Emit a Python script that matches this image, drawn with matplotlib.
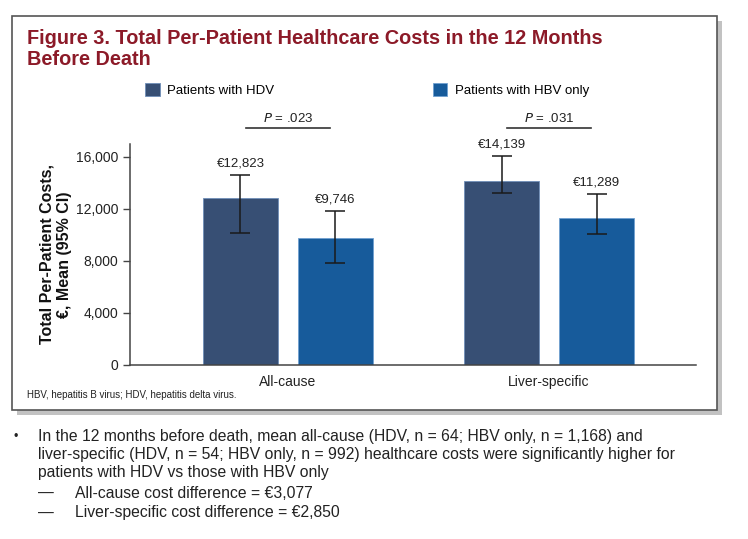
import matplotlib.pyplot as plt
import matplotlib.patches as mpatches
import numpy as np
from matplotlib.ticker import FuncFormatter

plt.rcParams['font.family'] = ['Liberation Sans Narrow', 'Liberation Sans', 'DejaVu Sans']

categories = ['All-cause', 'Liver-specific']
series = ['Patients with HDV', 'Patients with HBV only']
hdv_mean = [12823, 14139]
hbv_mean = [9746, 11289]
hdv_low = [10130, 13205]
hdv_high = [14615, 16077]
hbv_low = [7870, 10054]
hbv_high = [11846, 13154]
p_values = ['.023', '.031']
yticks = [0, 4000, 8000, 12000, 16000]

c_hdv = '#374f74'
c_hbv = '#175b9b'
c_title = '#8c1a28'

fig = plt.figure(figsize=(7.48, 5.39), dpi=100)

# framed panel with shadow
W, H = 748, 539
def fx(px):
    return px / W
def fy(py):
    return 1 - py / H
shadow = mpatches.Rectangle((fx(17), fy(415)), fx(705), fy(21) - fy(415),
                            transform=fig.transFigure, facecolor='#9a9a9a',
                            edgecolor='none', alpha=0.6, zorder=0)
box = mpatches.Rectangle((fx(12), fy(410)), fx(705), fy(16) - fy(410),
                         transform=fig.transFigure, facecolor='white',
                         edgecolor='#555555', linewidth=1.2, zorder=1)
fig.patches.extend([shadow, box])

fig.text(fx(27), fy(38), 'Figure 3. Total Per-Patient Healthcare Costs in the 12 Months',
         color=c_title, fontsize=14.3, fontweight='bold', va='center', ha='left', zorder=3)
fig.text(fx(27), fy(60), 'Before Death',
         color=c_title, fontsize=14.3, fontweight='bold', va='center', ha='left', zorder=3)

ax = fig.add_axes([fx(130), fy(365), fx(696) - fx(130), fy(144) - fy(365)])
ax.set_zorder(2)
ax.patch.set_alpha(0)

x = np.arange(len(categories))
off = 0.182
bw = 0.29
hdv_err = [np.array(hdv_mean) - np.array(hdv_low), np.array(hdv_high) - np.array(hdv_mean)]
hbv_err = [np.array(hbv_mean) - np.array(hbv_low), np.array(hbv_high) - np.array(hbv_mean)]

ax.bar(x - off, hdv_mean, bw, color=c_hdv, edgecolor='#6f8fb8', linewidth=0.6, label=series[0])
ax.bar(x + off, hbv_mean, bw, color=c_hbv, edgecolor='#6fa0d0', linewidth=0.6, label=series[1])
ax.errorbar(x - off, hdv_mean, yerr=hdv_err, fmt='none', ecolor='#1a1a1a',
            elinewidth=1.1, capsize=7, capthick=1.1)
ax.errorbar(x + off, hbv_mean, yerr=hbv_err, fmt='none', ecolor='#1a1a1a',
            elinewidth=1.1, capsize=7, capthick=1.1)

for i in range(len(categories)):
    ax.text(x[i] - off, hdv_high[i] + 420, '€{:,}'.format(hdv_mean[i]),
            ha='center', va='bottom', fontsize=9.5, color='#222222')
    ax.text(x[i] + off, hbv_high[i] + 420, '€{:,}'.format(hbv_mean[i]),
            ha='center', va='bottom', fontsize=9.5, color='#222222')
    ax.plot([x[i] - 0.16, x[i] + 0.16], [18230, 18230], color='#333333',
            linewidth=1.2, clip_on=False)
    ax.text(x[i], 18450, '$P$ = ' + p_values[i], ha='center', va='bottom',
            fontsize=9.5, color='#222222')

ax.set_xlim(-0.605, 1.563)
ax.set_ylim(0, 17000)
ax.set_yticks(yticks)
ax.yaxis.set_major_formatter(FuncFormatter(lambda v, p: '{:,}'.format(int(v))))
ax.set_xticks(x)
ax.set_xticklabels(categories)
ax.tick_params(axis='x', length=0, pad=7, labelsize=10, labelcolor='#222222')
ax.tick_params(axis='y', length=5, width=1, labelsize=10, labelcolor='#222222', color='#444444')
for s in ['top', 'right']:
    ax.spines[s].set_visible(False)
for s in ['left', 'bottom']:
    ax.spines[s].set_color('#444444')
    ax.spines[s].set_linewidth(1.1)

ax.set_ylabel('Total Per-Patient Costs,\n€, Mean (95% CI)', fontsize=11.5,
              fontweight='bold', color='#111111', labelpad=3, linespacing=1.2)

ax.legend(loc='upper left', bbox_to_anchor=(fx(145), fy(83)),
          bbox_transform=fig.transFigure, ncol=2, frameon=False,
          fontsize=9.5, handlelength=1.1, handleheight=1.1, handletextpad=0.6,
          columnspacing=12.0, borderpad=0, borderaxespad=0)

fig.text(fx(27), fy(395), 'HBV, hepatitis B virus; HDV, hepatitis delta virus.',
         fontsize=7, color='#222222', va='center', ha='left', zorder=3)

bullet_lines = ['In the 12 months before death, mean all-cause (HDV, n = 64; HBV only, n = 1,168) and',
                'liver-specific (HDV, n = 54; HBV only, n = 992) healthcare costs were significantly higher for',
                'patients with HDV vs those with HBV only']
sub_lines = ['All-cause cost difference = €3,077',
             'Liver-specific cost difference = €2,850']

fig.text(fx(14), fy(437), '•', fontsize=9, color='#222222', va='center', ha='left')
for k, line in enumerate(bullet_lines):
    fig.text(fx(38), fy(437 + 18 * k), line, fontsize=11.3, color='#222222',
             va='center', ha='left')
for k, line in enumerate(sub_lines):
    fig.text(fx(38), fy(493 + 20 * k), '—', fontsize=11.3, color='#222222',
             va='center', ha='left')
    fig.text(fx(75), fy(493 + 20 * k), line, fontsize=11.3, color='#222222',
             va='center', ha='left')

fig.savefig('out.png', dpi=100)
